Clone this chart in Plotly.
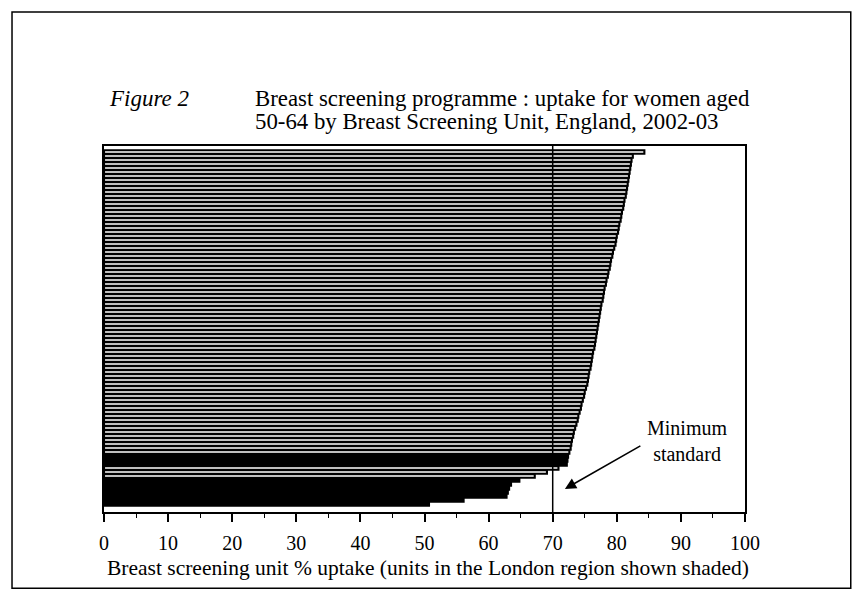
import plotly.graph_objects as go

# Uptake (%) per Breast Screening Unit, ordered top to bottom as drawn
uptake = [84.3, 82.5, 82.3, 82.2, 82.1, 82.0, 81.9, 81.8, 81.7, 81.6,
          81.5, 81.4, 81.2, 81.1, 81.0, 80.8, 80.7, 80.6, 80.4, 80.3,
          80.2, 80.0, 79.9, 79.8, 79.6, 79.4, 79.3, 79.1, 79.0, 78.9,
          78.7, 78.6, 78.4, 78.3, 78.1, 78.0, 77.9, 77.8, 77.6, 77.5,
          77.4, 77.3, 77.2, 77.1, 77.0, 76.9, 76.8, 76.7, 76.6, 76.5,
          76.3, 76.2, 76.1, 76.0, 75.9, 75.7, 75.6, 75.5, 75.4, 75.2,
          75.0, 74.9, 74.7, 74.5, 74.4, 74.2, 74.0, 73.9, 73.7, 73.5,
          73.3, 73.2, 73.0, 72.9, 72.8, 72.6,
          72.4, 72.3, 72.2,
          70.9, 69.1, 67.2,
          64.8, 63.5, 63.2, 63.0, 62.8, 56.1, 50.7]
# 1 = unit in the London region (shaded)
london = [0] * 76 + [1, 1, 1] + [0, 0, 0] + [1] * 7

units = list(range(len(uptake)))
minimum_standard = 70
x_ticks = [0, 10, 20, 30, 40, 50, 60, 70, 80, 90, 100]

fills = ["black" if l else "white" for l in london]

FONT = "Liberation Serif"

fig = go.Figure()
fig.add_trace(go.Bar(
    x=uptake, y=units, orientation="h",
    marker=dict(color=fills, line=dict(color="black", width=2.1)),
    hoverinfo="x",
))

fig.update_layout(
    width=862, height=596,
    margin=dict(l=104, r=117, t=146, b=84),
    paper_bgcolor="white", plot_bgcolor="white",
    bargap=0.15,
    showlegend=False,
    font=dict(family=FONT, color="black", size=20),
)

fig.update_xaxes(
    range=[0, 100], tickvals=x_ticks, ticktext=[str(t) for t in x_ticks],
    ticks="outside", ticklen=8, tickwidth=1.5, tickcolor="black",
    minor=dict(dtick=5, tick0=0, ticks="outside", ticklen=4, tickwidth=1.2, tickcolor="black"),
    showline=True, linecolor="black", linewidth=1.5, mirror=True,
    showgrid=False, zeroline=False,
    ticklabelstandoff=4,
    tickfont=dict(family=FONT, size=20),
)
fig.update_yaxes(
    range=[len(uptake) + 1, -1.5], showticklabels=False, ticks="",
    showline=True, linecolor="black", linewidth=1.5, mirror=True,
    showgrid=False, zeroline=False,
)

# Minimum standard line
fig.add_shape(type="line", xref="x", yref="paper",
              x0=minimum_standard, x1=minimum_standard, y0=0, y1=1,
              line=dict(color="black", width=1.5))

# Outer frame
fig.add_shape(type="rect", xref="paper", yref="paper",
              x0=-0.1435, x1=1.165, y0=-0.208, y1=1.366,
              line=dict(color="black", width=1.5))

# Titles
fig.add_annotation(text="<i>Figure 2</i>", xref="paper", yref="paper",
                   x=(107 - 104) / 641, y=(512 - 98) / 366,
                   xanchor="left", yanchor="middle", showarrow=False,
                   font=dict(family=FONT, size=23))
fig.add_annotation(text="Breast screening programme : uptake for women aged",
                   xref="paper", yref="paper",
                   x=(253 - 104) / 641, y=(512 - 98) / 366,
                   xanchor="left", yanchor="middle", showarrow=False,
                   font=dict(family=FONT, size=22.8))
fig.add_annotation(text="50-64 by Breast Screening Unit, England, 2002-03",
                   xref="paper", yref="paper",
                   x=(253 - 104) / 641, y=(512 - 122) / 366,
                   xanchor="left", yanchor="middle", showarrow=False,
                   font=dict(family=FONT, size=22.8))

# x-axis title
fig.add_annotation(text="Breast screening unit % uptake (units in the London region shown shaded)",
                   xref="paper", yref="paper",
                   x=(428 - 104) / 641, y=(512 - 568) / 366,
                   xanchor="center", yanchor="middle", showarrow=False,
                   font=dict(family=FONT, size=21.5))

# Minimum standard label and arrow
fig.add_annotation(text="Minimum<br>standard", xref="x", yref="paper",
                   x=91.0, y=(512 - 441) / 366,
                   xanchor="center", yanchor="middle", showarrow=False,
                   font=dict(family=FONT, size=20))
fig.add_annotation(text="", xref="x", yref="paper",
                   x=71.9, y=(512 - 489) / 366,
                   ax=77, ay=-44, showarrow=True,
                   arrowhead=2, arrowsize=1.4, arrowwidth=1.6, arrowcolor="black")

fig.write_html("out.html", config={"displayModeBar": False},
               post_script="document.body.style.margin='0';")
